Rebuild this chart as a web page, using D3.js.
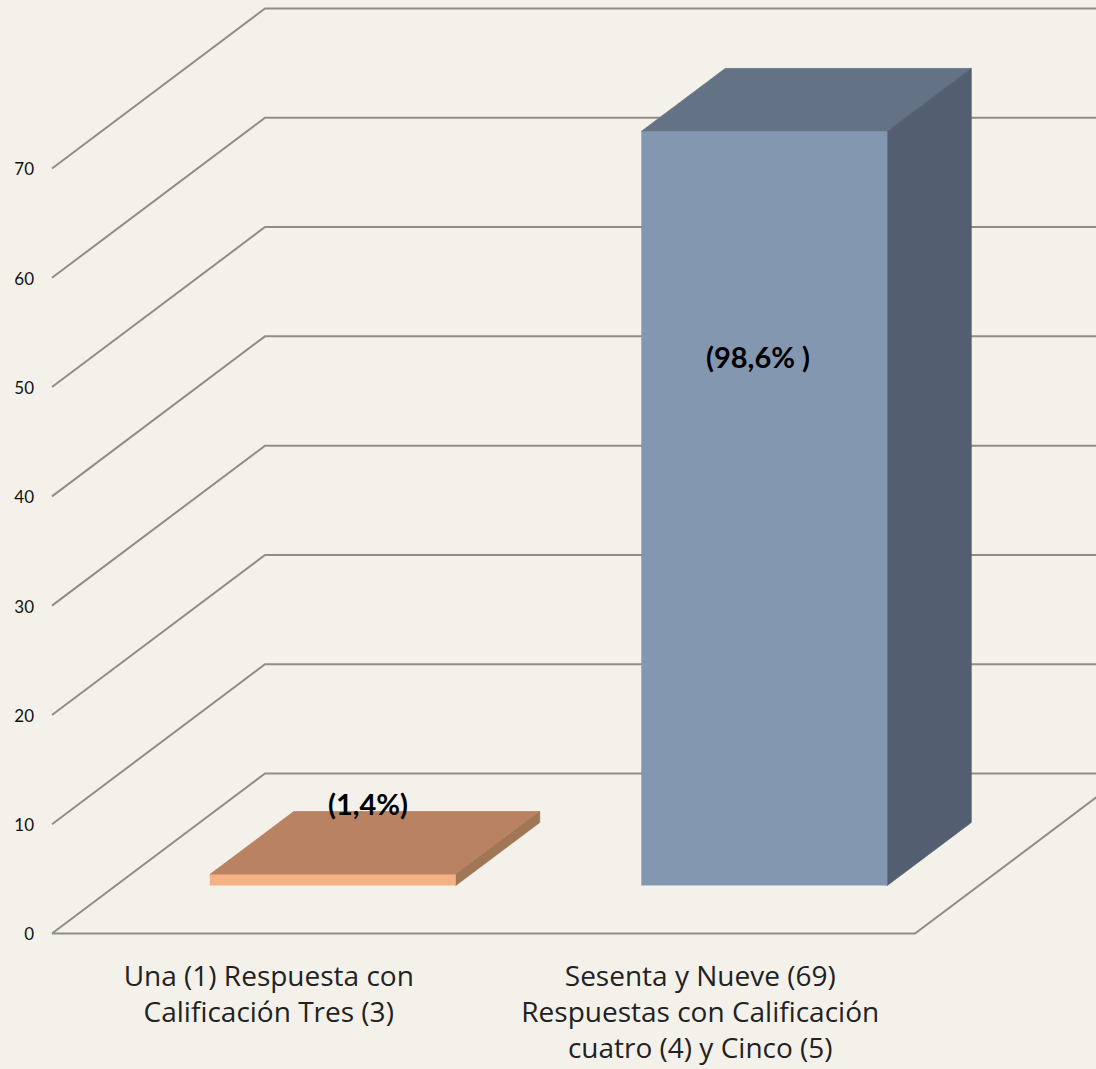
<!DOCTYPE html>
<html>
<head>
<meta charset="utf-8">
<script src="https://cdn.jsdelivr.net/npm/d3@7"></script>
<style>
  html, body { margin: 0; padding: 0; background: #F4F1EA; overflow: hidden; }
  svg { display: block; }
</style>
</head>
<body>
<div id="chart"></div>
<script>
// Values
const categories = [
    ["Una (1) Respuesta con", "Calificación Tres (3)"],
    ["Sesenta y Nueve (69)", "Respuestas con Calificación", "cuatro (4) y Cinco (5)"]
];
const values = [1, 69];
const percentLabels = ["(1,4%)", "(98,6% )"];
const tickValues = [0, 10, 20, 30, 40, 50, 60, 70];

const frontColors = ["#F4B183", "#8497B0"];
const topColors = ["#B98262", "#637285"];
const sideColors = ["#A07656", "#535F70"];

const width = 1096;
const height = 1069;

// Floor of the 3D box
const floor = {left: 52, right: 915, y: 933.5};
const depth = {dx: 213, dy: 160};
// Where the bars stand inside the floor, and how deep they are
const barOffset = {dx: 65, dy: 48};
const barDepth = {dx: 84, dy: 63};

const svg = d3.select("#chart")
    .append("svg")
    .attr("width", width)
    .attr("height", height);

svg.append("rect")
    .attr("width", width)
    .attr("height", height)
    .attr("fill", "#F4F1EA");

// Set up scales
const yScale = d3.scaleLinear()
    .domain([0, 70])
    .range([floor.y, 168.5]);

const xScale = d3.scaleBand()
    .domain(d3.range(categories.length))
    .range([floor.left, floor.right])
    .paddingInner(0.43)
    .paddingOuter(0.215);

const line = d3.line();

// Walls: one polyline for each tick, left side then back wall
const grid = svg.append("g")
    .attr("fill", "none")
    .attr("stroke", "#8E8E89")
    .attr("stroke-width", 2);

grid.selectAll("path")
    .data(tickValues)
    .enter().append("path")
    .attr("d", d => line([
        [floor.left, yScale(d)],
        [floor.left + depth.dx, yScale(d) - depth.dy],
        [width + 5, yScale(d) - depth.dy]
    ]));

// Front and right edge of the floor
grid.append("path")
    .attr("d", line([
        [floor.left, floor.y],
        [floor.right, floor.y],
        [floor.right + depth.dx, floor.y - depth.dy]
    ]));

// Y axis labels
const yAxis = svg.append("g")
    .attr("transform", "translate(34,1)")
    .call(d3.axisLeft(yScale).tickValues(tickValues).tickSize(0).tickPadding(0).tickFormat(d3.format("d")));

yAxis.select(".domain").remove();
yAxis.selectAll("text")
    .attr("font-family", "Lato, 'Open Sans', sans-serif")
    .attr("font-size", 17)
    .attr("fill", "#111");

// Bars
const bars = svg.selectAll(".bar")
    .data(values)
    .enter().append("g")
    .attr("class", "bar")
    .attr("stroke-width", 0.8);

const barBox = (d, i) => {
    const x0 = xScale(i) + barOffset.dx;
    const x1 = x0 + xScale.bandwidth();
    const y0 = floor.y - barOffset.dy;
    const y1 = y0 - (yScale(0) - yScale(d));
    return {x0, x1, y0, y1};
};

// top face
bars.append("path")
    .attr("fill", (d, i) => topColors[i])
    .attr("stroke", (d, i) => topColors[i])
    .attr("d", (d, i) => {
        const b = barBox(d, i);
        return line([[b.x0, b.y1], [b.x1, b.y1],
            [b.x1 + barDepth.dx, b.y1 - barDepth.dy], [b.x0 + barDepth.dx, b.y1 - barDepth.dy]]) + "Z";
    });

// side face
bars.append("path")
    .attr("fill", (d, i) => sideColors[i])
    .attr("stroke", (d, i) => sideColors[i])
    .attr("d", (d, i) => {
        const b = barBox(d, i);
        return line([[b.x1, b.y0], [b.x1, b.y1],
            [b.x1 + barDepth.dx, b.y1 - barDepth.dy], [b.x1 + barDepth.dx, b.y0 - barDepth.dy]]) + "Z";
    });

// front face
bars.append("rect")
    .attr("fill", (d, i) => frontColors[i])
    .attr("x", (d, i) => barBox(d, i).x0)
    .attr("y", (d, i) => barBox(d, i).y1)
    .attr("width", xScale.bandwidth())
    .attr("height", (d, i) => barBox(d, i).y0 - barBox(d, i).y1);

// Percent labels
const labelPos = [[368, 815], [758, 368]];
svg.selectAll(".pct")
    .data(percentLabels)
    .enter().append("text")
    .attr("class", "pct")
    .attr("x", (d, i) => labelPos[i][0])
    .attr("y", (d, i) => labelPos[i][1])
    .attr("text-anchor", "middle")
    .attr("font-family", "Lato, 'Open Sans', sans-serif")
    .attr("font-weight", "bold")
    .attr("font-size", 29)
    .attr("fill", "#000")
    .text(d => d);

// Category labels
const catLabels = svg.selectAll(".cat")
    .data(categories)
    .enter().append("text")
    .attr("class", "cat")
    .attr("text-anchor", "middle")
    .attr("font-family", "'Open Sans', sans-serif")
    .attr("font-size", 28)
    .attr("fill", "#222");

catLabels.selectAll("tspan")
    .data((d, i) => d.map(t => ({t, i})))
    .enter().append("tspan")
    .attr("x", d => xScale(d.i) + xScale.bandwidth() / 2 + 1)
    .attr("y", (d, j) => 986 + j * 36)
    .text(d => d.t);
</script>
</body>
</html>
